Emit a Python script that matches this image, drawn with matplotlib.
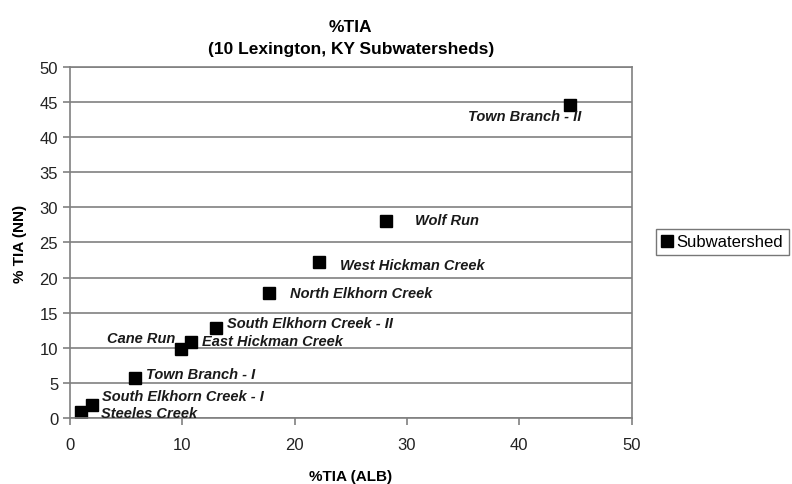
import matplotlib
matplotlib.use('Agg')
import matplotlib.pyplot as plt
from matplotlib.lines import Line2D

plt.rcParams['font.family'] = ['Liberation Sans', 'DejaVu Sans']

# %TIA from ALB vs NN methods, 10 Lexington subwatersheds
names = ['Steeles Creek', 'South Elkhorn Creek - I', 'Town Branch - I', 'Cane Run',
         'East Hickman Creek', 'South Elkhorn Creek - II', 'North Elkhorn Creek',
         'West Hickman Creek', 'Wolf Run', 'Town Branch - II']
tia_alb = [1.0, 2.0, 5.8, 9.9, 10.8, 13.0, 17.7, 22.2, 28.1, 44.5]
tia_nn = [0.9, 1.9, 5.7, 9.8, 10.8, 12.8, 17.8, 22.2, 28.0, 44.6]

# label offsets in points (dx, dy, horizontal alignment)
label_pos = [(14, -1, 'left'), (7, 6, 'left'), (8, 3, 'left'), (-4, 8, 'right'),
             (8, 1, 'left'), (8, 4, 'left'), (15, 0, 'left'),
             (15, -2, 'left'), (21, 1, 'left'), (8, -8, 'right')]

fig = plt.figure(figsize=(7.92, 4.85), dpi=100)
ax = fig.add_axes([0.0884, 0.136, 0.709, 0.724])

ax.plot(tia_alb, tia_nn, linestyle='none', marker='s', markersize=8,
        color='black', label='Subwatershed')

for name, x, y, (dx, dy, ha) in zip(names, tia_alb, tia_nn, label_pos):
    ax.annotate(name, (x, y), xytext=(dx, dy), textcoords='offset points',
                ha=ha, va='center', fontsize=10.5, fontweight='bold',
                fontstyle='italic', color='#1a1a1a')

ax.set_xlim(0, 50)
ax.set_ylim(0, 50)
ax.set_xticks(range(0, 51, 10))
ax.set_yticks(range(0, 51, 5))
ax.yaxis.grid(True, color='#808080', linewidth=1.2)
ax.set_axisbelow(True)
for side in ax.spines.values():
    side.set_color('#808080')
    side.set_linewidth(1.2)
ax.tick_params(direction='out', length=5, color='#808080', width=1.2,
               labelsize=12, labelcolor='#222222')
ax.tick_params(axis='x', pad=9)

ax.set_xlabel('%TIA (ALB)', fontsize=11, fontweight='bold', labelpad=12)
ax.set_ylabel('% TIA (NN)', fontsize=11, fontweight='bold', labelpad=9)
ax.set_title('%TIA\n(10 Lexington, KY Subwatersheds)', fontsize=12.5,
             fontweight='bold', pad=10, linespacing=1.6)

handle = Line2D([], [], linestyle='none', marker='s', markersize=8, color='black')
leg = fig.legend([handle], ['Subwatershed'], loc='center left',
                 bbox_to_anchor=(0.828, 0.499), fontsize=12, frameon=True,
                 fancybox=False, handlelength=0.6, handletextpad=0.3,
                 borderpad=0.35, borderaxespad=0)
leg.get_frame().set_edgecolor('#555555')
leg.get_frame().set_linewidth(1.0)

fig.savefig('out.png', dpi=100)
